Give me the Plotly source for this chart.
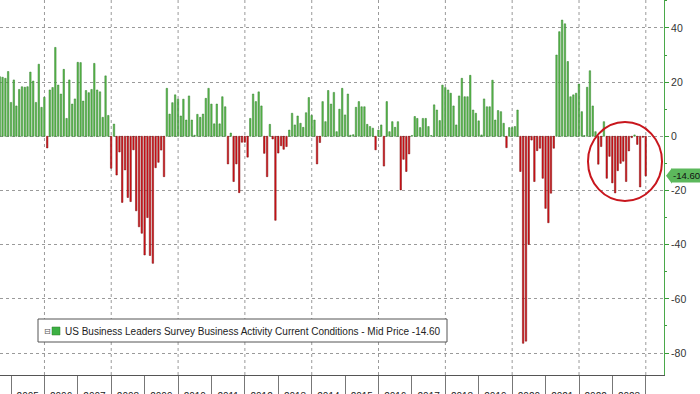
import numpy as np
import pandas as pd
import plotly.graph_objects as go

# ---------------- data (monthly, Aug 2004 - Dec 2023) ----------------
start_month = "2004-08-01"
v2004 = [22.0, 21.8, 21.4, 23.9, 12.5]
v2005 = [20.8, 11.2, 17.3, 18.3, 18.1, 18.3, 23.7, 20.4, 12.5, 26.6, 10.7, 14.4]
v2006 = [-4.3, 17.1, 18.0, 32.8, 18.9, 15.6, 24.7, 6.6, 20.8, 11.9, 13.8, 27.3]
v2007 = [27.2, 13.0, 16.9, 16.1, 17.3, 26.9, 17.1, 16.4, 7.0, 22.3, 7.7, -11.8]
v2008 = [4.5, -14.3, -5.8, -24.4, -12.4, -22.6, -24.1, -5.0, -27.5, -33.4, -35.8, -43.8]
v2009 = [-30.0, -44.0, -46.9, -11.6, -9.6, -5.1, -14.9, 17.7, 8.2, 12.4, 15.3, 13.7]
v2010 = [7.5, 13.7, 6.0, 14.9, 6.0, 0.4, 8.1, 7.0, 8.2, 14.0, 17.7, 11.9]
v2011 = [4.6, 11.9, 4.6, 14.6, 10.9, -10.2, 1.2, -16.7, -10.2, -20.8, -2.2, -2.2]
v2012 = [-7.7, 6.6, 15.6, 12.8, 16.4, 11.2, -6.3, -14.9, 4.4, -1.0, -31.0, -6.2]
v2013 = [-3.5, -4.8, -3.8, 2.3, 8.5, 4.2, 7.5, 4.8, 3.3, 8.7, 14.3, 7.7]
v2014 = [6.0, -10.2, -2.3, 12.8, 5.4, 16.9, 11.9, 16.2, 1.7, 10.0, 17.7, 7.9]
v2015 = [15.6, 0.4, 0.6, 10.7, 12.8, 10.9, 10.9, 4.4, 3.6, 3.0, -5.0, 2.3]
v2016 = [4.2, -11.0, 12.8, 1.7, 5.4, 3.3, 5.4, -19.8, -8.5, -13.0, -6.5, 0.3]
v2017 = [7.3, 6.6, 3.2, 6.6, 6.6, 3.6, 0.3, 11.6, 9.7, 5.8, 18.9, 18.0]
v2018 = [17.1, 15.9, 11.2, 4.2, 14.9, 21.4, 14.6, 14.6, 22.5, 9.7, 8.5, 5.7]
v2019 = [0.5, 13.8, 10.9, 10.9, 20.7, 6.0, 9.5, 9.1, 4.8, -4.2, 3.2, 3.2]
v2020 = [3.6, 9.7, -13.0, -76.4, -75.6, -39.9, -1.4, -16.7, -5.3, -4.4, -15.5, -26.6]
v2021 = [-31.9, -21.0, -4.4, 30.0, 38.6, 42.9, 41.5, 27.6, 14.6, 15.3, 15.9, 19.3]
v2022 = [9.1, 0.3, 18.1, 24.2, 11.2, 1.7, -10.3, -3.8, 5.4, -15.5, -7.4, -17.2]
v2023 = [-20.9, -12.7, -10.0, -9.2, -16.7, -5.4, -0.5, 0.5, -3.0, -18.7, -0.4, -14.6]

year_labels = [str(y) for y in range(2005, 2024)]
y_ticks = [-80, -60, -40, -20, 0, 20, 40]
series_name = "US Business Leaders Survey Business Activity Current Conditions - Mid Price"

values = np.array(v2004 + v2005 + v2006 + v2007 + v2008 + v2009 + v2010 + v2011 +
                  v2012 + v2013 + v2014 + v2015 + v2016 + v2017 + v2018 + v2019 +
                  v2020 + v2021 + v2022 + v2023)
months = pd.date_range(start_month, periods=len(values), freq="MS")
xpos = months + pd.offsets.MonthEnd(0)   # monthly bars plotted at month end
last_val = values[-1]

pos = values >= 0
neg = ~pos
bar_w = 16 * 24 * 3600 * 1000

fig = go.Figure()
fig.add_trace(go.Bar(x=xpos[pos], y=values[pos], width=bar_w,
                     marker=dict(color="#5dbd4e", line=dict(color="#2f7d2a", width=0.5)),
                     showlegend=False, name=series_name))
fig.add_trace(go.Bar(x=xpos[neg], y=values[neg], width=bar_w,
                     marker=dict(color="#e3141b", line=dict(color="#6e0a0a", width=0.5)),
                     showlegend=False, name=series_name))

W, H = 700, 394
ml, mr, mt, mb = 0, 36, 0, 19
pw, ph = W - ml - mr, H - mt - mb

def px(x):
    return (x - ml) / pw

def py(y):
    return 1 - (y - mt) / ph

shapes = []
# dotted vertical gridlines at even years
for yr in range(2006, 2025, 2):
    shapes.append(dict(type="line", xref="x", yref="paper", x0=f"{yr}-01-01", x1=f"{yr}-01-01",
                       y0=0, y1=1, line=dict(color="#9a9a9a", width=1, dash="dot"), layer="below"))
# red circle highlight
shapes.append(dict(type="circle", xref="paper", yref="paper",
                   x0=px(588), x1=px(662), y0=py(201), y1=py(122),
                   line=dict(color="#c8161d", width=2)))
# last value tag pointer
shapes.append(dict(type="path", xref="paper", yref="y",
                   path=f"M {px(666)},{last_val} L {px(672)},{last_val+2.9} L {px(672)},{last_val-2.9} Z",
                   fillcolor="#5cb85c", line=dict(width=0)))
# legend box pieces
shapes.append(dict(type="rect", xref="paper", yref="paper",
                   x0=px(38), x1=px(447), y0=py(342), y1=py(319),
                   line=dict(color="#555555", width=1), fillcolor="white"))
shapes.append(dict(type="rect", xref="paper", yref="paper",
                   x0=px(52), x1=px(60), y0=py(335), y1=py(327),
                   line=dict(color="#2f7d2a", width=0.5), fillcolor="#3cb043"))

annotations = [
    dict(xref="paper", yref="paper", x=px(63), y=py(331), xanchor="left", yanchor="middle",
         text=f"{series_name} {last_val:.2f}", showarrow=False,
         font=dict(family="Liberation Sans, Arial, sans-serif", size=10, color="#222222")),
    dict(xref="paper", yref="paper", x=px(47), y=py(331), xanchor="center", yanchor="middle",
         text="⊟", showarrow=False,
         font=dict(family="DejaVu Sans, sans-serif", size=8, color="#555555")),
    dict(xref="paper", yref="y", x=px(671), y=last_val, xanchor="left", yanchor="middle",
         text=f"{last_val:.2f}", showarrow=False, bgcolor="#5cb85c", borderpad=1,
         font=dict(family="Liberation Sans, Arial, sans-serif", size=9.6, color="#111111")),
]

fig.update_layout(
    width=W, height=H,
    margin=dict(l=ml, r=mr, t=mt, b=mb, autoexpand=False),
    paper_bgcolor="white", plot_bgcolor="white",
    barmode="overlay",
    showlegend=False,
    shapes=shapes,
    annotations=annotations,
    font=dict(family="Liberation Sans, Arial, sans-serif", size=10, color="#222222"),
    xaxis=dict(
        type="date",
        automargin=False,
        range=["2004-09-02", "2024-07-18"],
        tickmode="array",
        tickvals=[f"{y}-07-02" for y in year_labels],
        ticktext=year_labels,
        ticks="outside", ticklen=12, tickcolor="rgba(0,0,0,0)",
        tickfont=dict(size=10, color="#222222"),
        showgrid=False, zeroline=False,
        showline=True, linecolor="#555555", linewidth=1,
        minor=dict(tickmode="array", tickvals=[f"{y}-01-01" for y in range(2005, 2025)],
                   ticks="outside", ticklen=20, tickcolor="#777777", tickwidth=1, showgrid=False),
    ),
    yaxis=dict(
        side="right",
        automargin=False,
        range=[-88.1, 50.3],
        tickmode="array",
        tickvals=y_ticks,
        ticktext=[str(t) for t in y_ticks],
        ticks="outside", ticklen=4, tickcolor="#3a9a3a",
        tickfont=dict(size=10.5, color="#333333"),
        showline=True, linecolor="#4aa84a", linewidth=1,
        showgrid=True, gridcolor="#9a9a9a", griddash="dot", gridwidth=1,
        zeroline=False,
        minor=dict(dtick=10, ticks="outside", ticklen=2, tickcolor="#3a9a3a", showgrid=False),
    ),
)

fig.write_html("out.html", config={"displayModeBar": False},
               post_script="document.body.style.margin='0';document.body.style.overflow='hidden';")
